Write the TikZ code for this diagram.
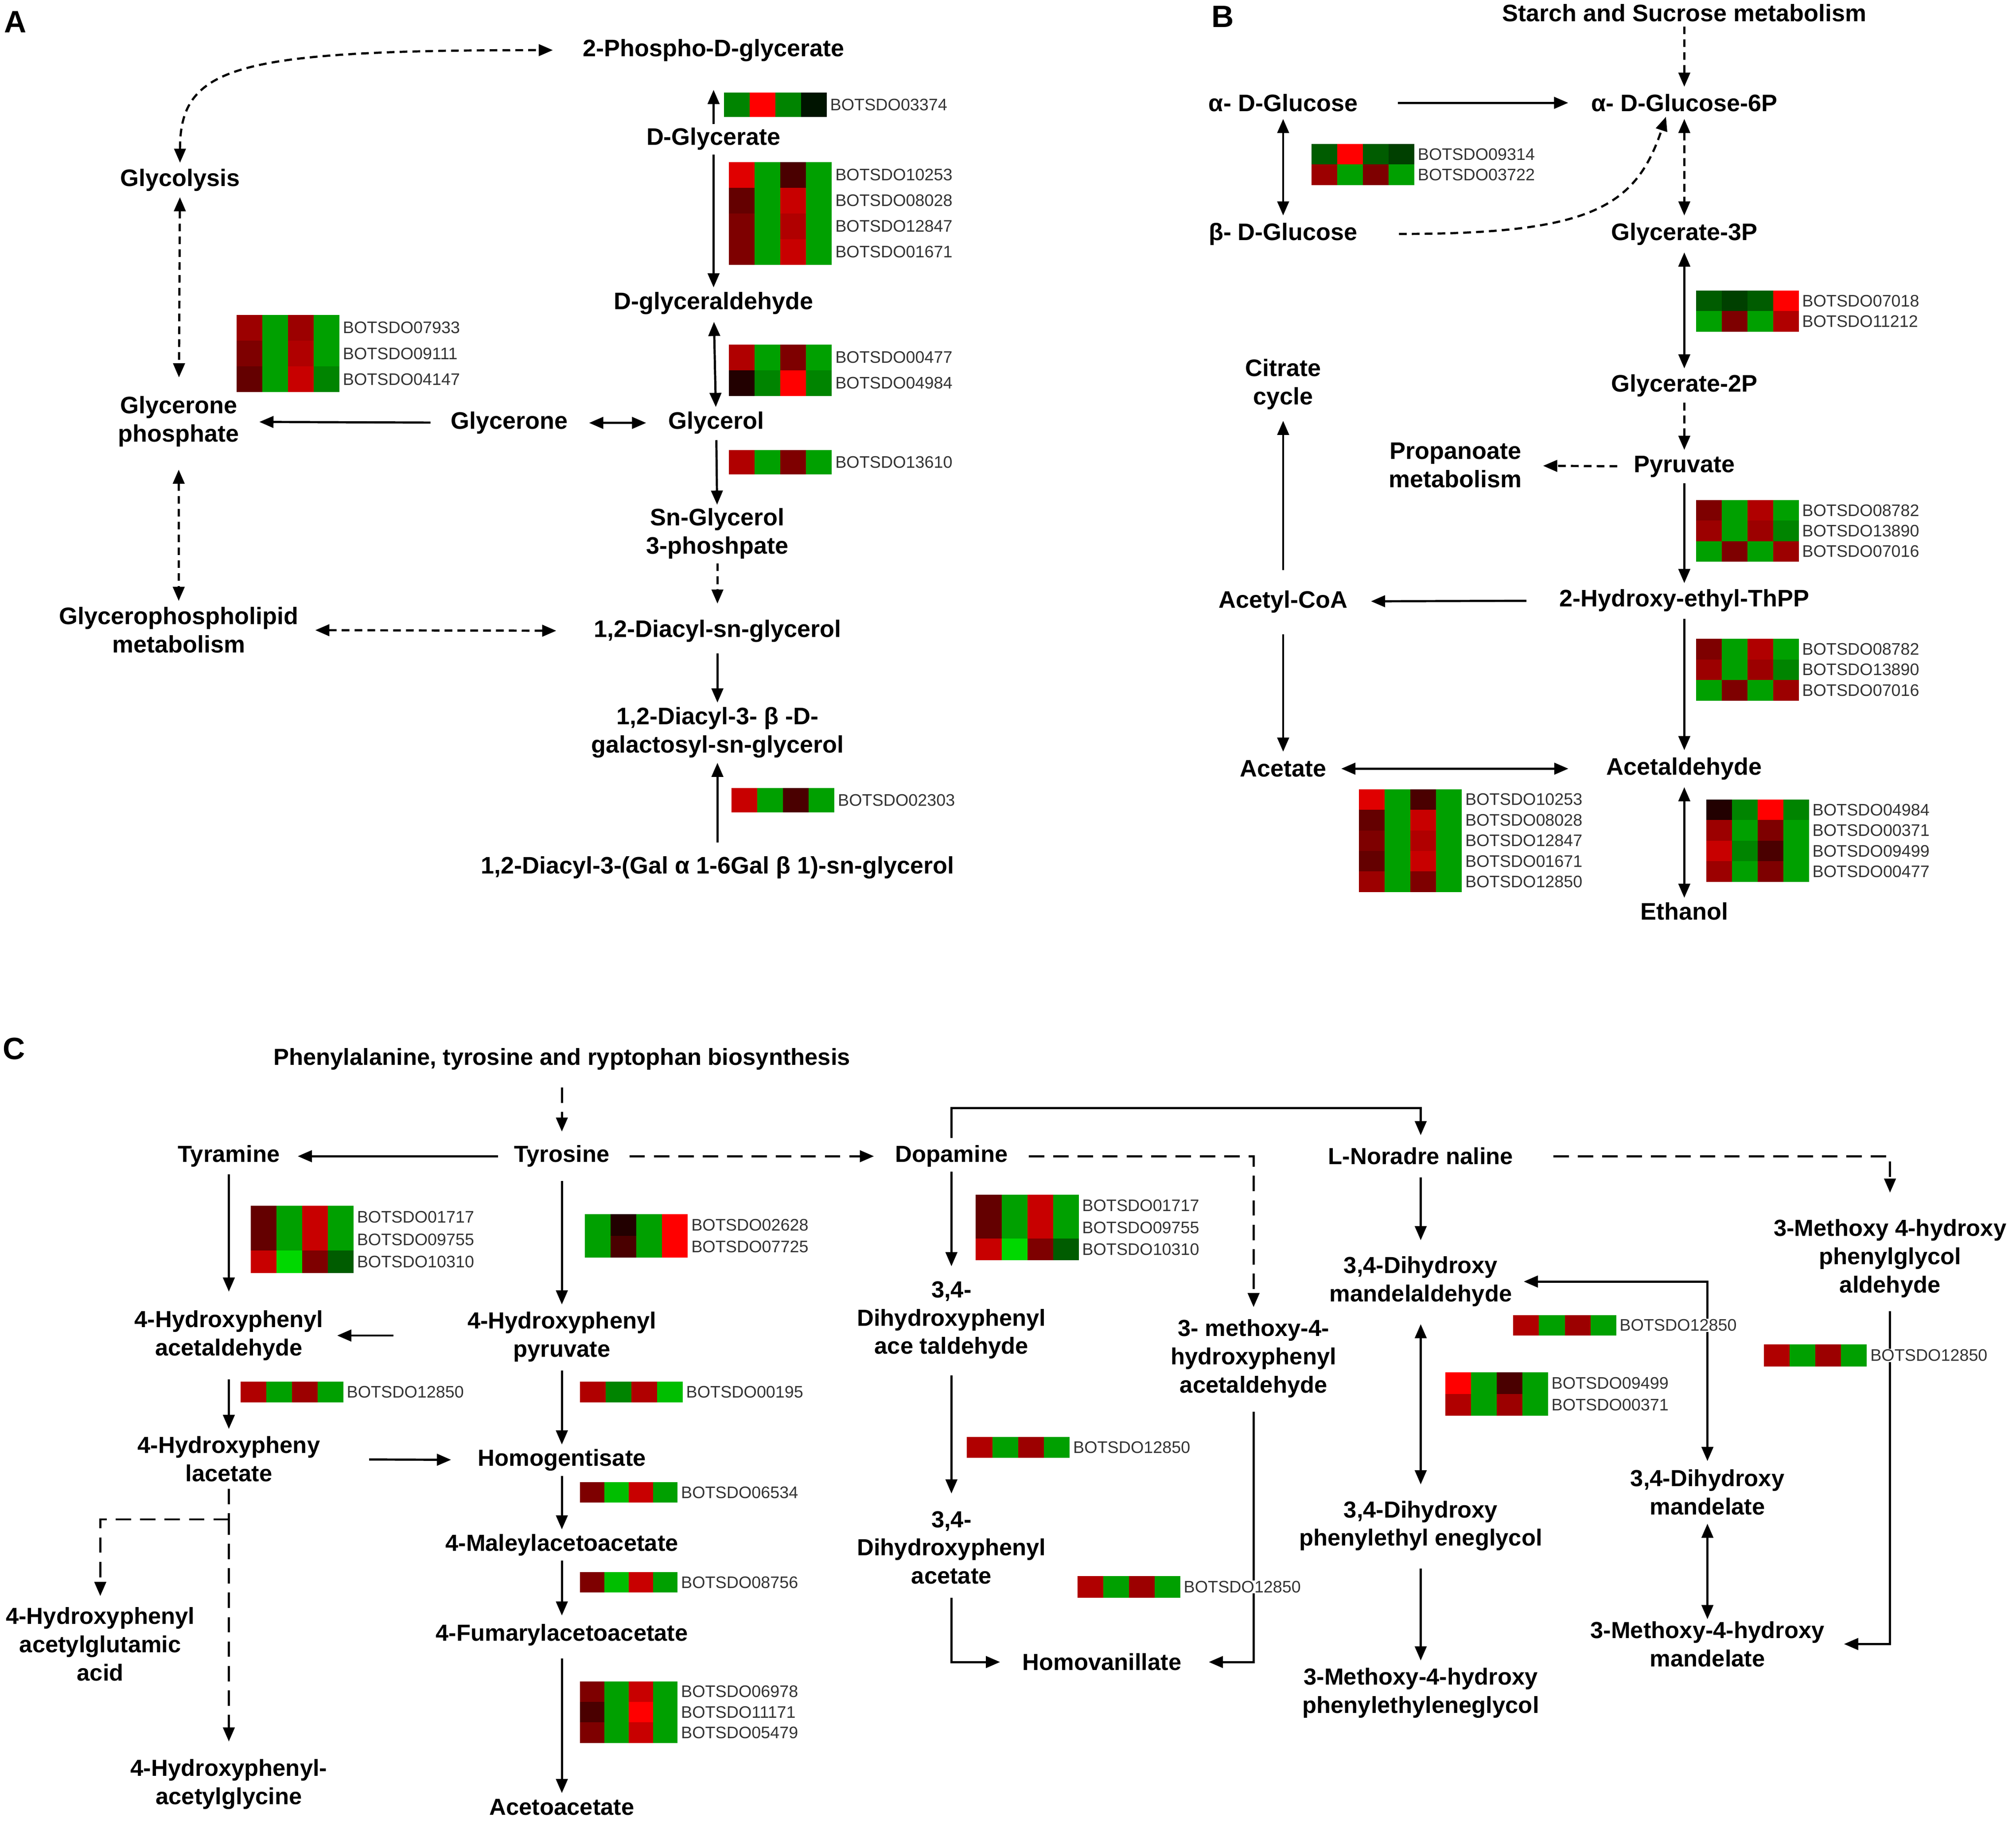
\documentclass[tikz,border=0pt]{standalone}
\usepackage{fontspec}
\setmainfont{Liberation Sans}
\usetikzlibrary{arrows.meta,calc}
\definecolor{rA}{HTML}{FF0000}
\definecolor{rB}{HTML}{E00000}
\definecolor{rC}{HTML}{C80000}
\definecolor{rD}{HTML}{B00000}
\definecolor{rE}{HTML}{9C0000}
\definecolor{rF}{HTML}{7E0000}
\definecolor{rG}{HTML}{640000}
\definecolor{rH}{HTML}{4A0000}
\definecolor{rI}{HTML}{220000}
\definecolor{gA}{HTML}{00D800}
\definecolor{gB}{HTML}{00A000}
\definecolor{gC}{HTML}{008400}
\definecolor{gD}{HTML}{005C00}
\definecolor{gE}{HTML}{004000}
\definecolor{gK}{HTML}{001400}
\definecolor{gL}{HTML}{00BE00}
\newcounter{gn}
\newcommand\hmrow[9]{%
 \fill[#5] (#1,#2) rectangle ++(#3,#4);
 \fill[#6] ({#1+#3},#2) rectangle ++(#3,#4);
 \fill[#7] ({#1+2*#3},#2) rectangle ++(#3,#4);
 \fill[#8] ({#1+3*#3},#2) rectangle ++(#3,#4);
 \stepcounter{gn}%
 \node[gene] (gene\arabic{gn}) at ({#1+4*#3+2},{#2+#4/2}) {#9};
}
\begin{document}
\begin{tikzpicture}[x=1pt,y=-1pt,
  labA/.style={font=\bfseries\fontsize{18.6}{22}\selectfont,align=center,inner sep=0pt},
  labC/.style={font=\bfseries\fontsize{18.1}{22}\selectfont,align=center,inner sep=0pt},
  gene/.style={font=\fontsize{13}{15}\selectfont,text=black!80,anchor=west,inner sep=0.5pt,fill=white},
  panel/.style={font=\bfseries\fontsize{24}{28}\selectfont,inner sep=0pt},
  ln/.style={line width=1.7pt},
  arr/.style={ln,-{Triangle[length=11pt,width=9pt]}},
  dbl/.style={ln,{Triangle[length=11pt,width=9pt]}-{Triangle[length=11pt,width=9pt]}},
  dsh/.style={dash pattern=on 6pt off 4pt},
  dshC/.style={dash pattern=on 12pt off 7pt},
]
\fill[white] (0,0) rectangle (1568,1422.6);
\useasboundingbox (0,0) rectangle (1568,1422.6);

% ---------------- Panel letters
\node[panel] (pA) at (12,17) {A};
\node[panel] (pB) at (951,13) {B};
\node[panel] (pC) at (11,816) {C};

% ---------------- Panel A
\node[labA] (pg) at (555,39) {2-Phospho-D-glycerate};
\node[labA] (dg) at (555,108) {D-Glycerate};
\node[labA] (dga) at (555,236) {D-glyceraldehyde};
\node[labA] (glyc) at (140,140) {Glycolysis};
\node[labA] (gp) at (139,328) {Glycerone\\phosphate};
\node[labA] (gly) at (396,329) {Glycerone};
\node[labA] (gol) at (557,329) {Glycerol};
\node[labA] (sng) at (558,415) {Sn-Glycerol\\3-phoshpate};
\node[labA] (dag) at (558,491) {1,2-Diacyl-sn-glycerol};
\node[labA] (gpl) at (139,490) {Glycerophospholipid\\metabolism};
\node[labA] (mgdg) at (558,570) {1,2-Diacyl-3- β -D-\\galactosyl-sn-glycerol};
\node[labA] (dgdg) at (558,675) {1,2-Diacyl-3-(Gal α 1-6Gal β 1)-sn-glycerol};

\draw[arr,shorten <=2.5pt,shorten >=22pt] (dg) -- (pg);
\draw[arr,shorten <=3.5pt,shorten >=3.5pt] (dg) -- (dga);
\draw[dbl,shorten <=5.5pt,shorten >=3.5pt] (dga) -- (gol);
\draw[arr,shorten <=15.5pt,shorten >=15.5pt] (gly) -- (gp);
\draw[dbl,shorten <=16.5pt,shorten >=17pt] (gly) -- (gol);
\draw[arr,shorten <=4.5pt,shorten >=2.5pt] (gol) -- (sng);
\draw[arr,dsh,shorten <=3.5pt,shorten >=12.5pt] (sng) -- (dag);
\draw[dbl,dsh,shorten <=4.5pt,shorten >=14.5pt] (glyc) -- (gp);
\draw[dbl,dsh,shorten <=17.5pt,shorten >=4.5pt] (gp) -- (gpl);
\draw[dbl,dsh,shorten <=13pt,shorten >=29pt] (gpl) -- (dag);
\draw[arr,shorten <=8.5pt,shorten >=3.5pt] (dag) -- (mgdg);
\draw[arr,shorten <=10.5pt,shorten >=3.5pt] (dgdg) -- (mgdg);
\draw[dbl,dsh,shorten <=4.5pt,shorten >=23pt] (glyc.north) .. controls +(0,-80) and +(-270,0) .. (pg.west);

\hmrow{563}{72}{20}{19}{gC}{rA}{gC}{gK}{BOTSDO03374}
\hmrow{567}{126}{20}{20}{rB}{gB}{rH}{gB}{BOTSDO10253}
\hmrow{567}{146}{20}{20}{rG}{gB}{rC}{gB}{BOTSDO08028}
\hmrow{567}{166}{20}{20}{rF}{gB}{rD}{gB}{BOTSDO12847}
\hmrow{567}{186}{20}{20}{rF}{gB}{rC}{gB}{BOTSDO01671}
\hmrow{184}{245}{20}{20}{rE}{gB}{rE}{gB}{BOTSDO07933}
\hmrow{184}{265}{20}{20}{rF}{gB}{rD}{gB}{BOTSDO09111}
\hmrow{184}{285}{20}{20}{rG}{gB}{rC}{gC}{BOTSDO04147}
\hmrow{567}{268}{20}{20}{rD}{gB}{rF}{gB}{BOTSDO00477}
\hmrow{567}{288}{20}{20}{rI}{gC}{rA}{gC}{BOTSDO04984}
\hmrow{567}{350}{20}{19}{rD}{gB}{rF}{gB}{BOTSDO13610}
\hmrow{569}{613}{20}{19}{rC}{gB}{rH}{gB}{BOTSDO02303}

% ---------------- Panel B
\node[labA] (ssm) at (1310,10) {Starch and Sucrose metabolism};
\node[labA] (ag) at (998,80) {α- D-Glucose};
\node[labA] (ag6) at (1310,80) {α- D-Glucose-6P};
\node[labA] (bg) at (998,182) {β- D-Glucose};
\node[labA] (g3p) at (1310,182) {Glycerate-3P};
\node[labA] (cit) at (998,299) {Citrate\\cycle};
\node[labA] (g2p) at (1310,300) {Glycerate-2P};
\node[labA] (prop) at (1132,362) {Propanoate\\metabolism};
\node[labA] (pyr) at (1310,363) {Pyruvate};
\node[labA] (acoa) at (998,468) {Acetyl-CoA};
\node[labA] (hetpp) at (1310,467) {2-Hydroxy-ethyl-ThPP};
\node[labA] (acet) at (998,598) {Acetate};
\node[labA] (acal) at (1310,598) {Acetaldehyde};
\node[labA] (eth) at (1310,709) {Ethanol};

\draw[arr,dsh,shorten <=3.5pt,shorten >=5.5pt] (ssm) -- (ag6);
\draw[arr,shorten <=31pt,shorten >=17.7pt] (ag) -- (ag6);
\draw[dbl,shorten <=5.5pt,shorten >=5.5pt] (ag) -- (bg);
\draw[arr,dsh,shorten <=32pt,shorten >=4pt] (bg.east) .. controls +(180,0) and +(-25,75) .. ([xshift=-13pt]ag6.south);
\draw[dbl,dsh,shorten <=5.5pt,shorten >=5.5pt] (ag6) -- (g3p);
\draw[dbl,shorten <=5.5pt,shorten >=4.5pt] (g3p) -- (g2p);
\draw[arr,dsh,shorten <=4.5pt,shorten >=4.5pt] (g2p) -- (pyr);
\draw[arr,dsh,shorten <=12.7pt,shorten >=16.3pt] (pyr) -- (prop);
\draw[arr,shorten <=4.5pt,shorten >=4.5pt] (pyr) -- (hetpp);
\draw[arr,shorten <=25.4pt,shorten >=18pt] (hetpp) -- (acoa);
\draw[arr,shorten <=15.5pt,shorten >=8.5pt] (acoa) -- (cit);
\draw[arr,shorten <=16.5pt,shorten >=6.5pt] (acoa) -- (acet);
\draw[arr,shorten <=5.5pt,shorten >=5.5pt] (hetpp) -- (acal);
\draw[dbl,shorten <=11.4pt,shorten >=29.5pt] (acet) -- (acal);
\draw[dbl,shorten <=5.5pt,shorten >=3.5pt] (acal) -- (eth);

\hmrow{1020}{112}{20}{16}{gD}{rA}{gD}{gE}{BOTSDO09314}
\hmrow{1020}{128}{20}{16}{rE}{gB}{rF}{gB}{BOTSDO03722}
\hmrow{1319}{226}{20}{16}{gD}{gE}{gD}{rA}{BOTSDO07018}
\hmrow{1319}{242}{20}{16}{gB}{rF}{gB}{rD}{BOTSDO11212}
\hmrow{1319}{389}{20}{16}{rF}{gB}{rD}{gB}{BOTSDO08782}
\hmrow{1319}{405}{20}{16}{rE}{gB}{rE}{gC}{BOTSDO13890}
\hmrow{1319}{421}{20}{16}{gB}{rF}{gB}{rE}{BOTSDO07016}
\hmrow{1319}{497}{20}{16}{rF}{gB}{rD}{gB}{BOTSDO08782}
\hmrow{1319}{513}{20}{16}{rE}{gB}{rE}{gC}{BOTSDO13890}
\hmrow{1319}{529}{20}{16}{gB}{rF}{gB}{rE}{BOTSDO07016}
\hmrow{1057}{614}{20}{16}{rB}{gB}{rH}{gB}{BOTSDO10253}
\hmrow{1057}{630}{20}{16}{rG}{gB}{rC}{gB}{BOTSDO08028}
\hmrow{1057}{646}{20}{16}{rF}{gB}{rD}{gB}{BOTSDO12847}
\hmrow{1057}{662}{20}{16}{rG}{gB}{rC}{gB}{BOTSDO01671}
\hmrow{1057}{678}{20}{16}{rE}{gB}{rF}{gB}{BOTSDO12850}
\hmrow{1327}{622}{20}{16}{rI}{gC}{rA}{gC}{BOTSDO04984}
\hmrow{1327}{638}{20}{16}{rE}{gB}{rF}{gB}{BOTSDO00371}
\hmrow{1327}{654}{20}{16}{rC}{gC}{rH}{gB}{BOTSDO09499}
\hmrow{1327}{670}{20}{16}{rE}{gB}{rF}{gB}{BOTSDO00477}

% ---------------- Panel C
\node[labC] (phe) at (437,824) {Phenylalanine, tyrosine and ryptophan biosynthesis};
\node[labC] (tyra) at (178,899.5) {Tyramine};
\node[labC] (tyro) at (437,899.5) {Tyrosine};
\node[labC] (dop) at (740,899.5) {Dopamine};
\node[labC] (nor) at (1105,899.5) {L-Noradre naline};
\node[labC] (mhpga) at (1470,979) {3-Methoxy 4-hydroxy\\phenylglycol\\aldehyde};
\node[labC] (hpaa) at (178,1039) {4-Hydroxyphenyl\\acetaldehyde};
\node[labC] (hpp) at (437,1040) {4-Hydroxyphenyl\\pyruvate};
\node[labC] (dhpaa) at (740,1027) {3,4-\\Dihydroxyphenyl\\ace taldehyde};
\node[labC] (mhpaa) at (975,1057) {3- methoxy-4-\\hydroxyphenyl\\acetaldehyde};
\node[labC] (dhma) at (1105,997) {3,4-Dihydroxy\\mandelaldehyde};
\node[labC] (hpla) at (178,1135) {4-Hydroxypheny\\lacetate};
\node[labC] (hga) at (437,1136) {Homogentisate};
\node[labC] (maa) at (437,1202) {4-Maleylacetoacetate};
\node[labC] (faa) at (437,1272) {4-Fumarylacetoacetate};
\node[labC] (aca) at (437,1406) {Acetoacetate};
\node[labC] (dhpa) at (740,1204) {3,4-\\Dihydroxyphenyl\\acetate};
\node[labC] (hva) at (857,1293) {Homovanillate};
\node[labC] (dhpeg) at (1105,1187) {3,4-Dihydroxy\\phenylethyl eneglycol};
\node[labC] (mhpeg) at (1105,1317) {3-Methoxy-4-hydroxy\\phenylethyleneglycol};
\node[labC] (dhmand) at (1328,1161) {3,4-Dihydroxy\\mandelate};
\node[labC] (mhmand) at (1328,1279) {3-Methoxy-4-hydroxy\\mandelate};
\node[labC] (hpag) at (78,1279) {4-Hydroxyphenyl\\acetylglutamic\\acid};
\node[labC] (hpgly) at (178,1388) {4-Hydroxyphenyl-\\acetylglycine};

\draw[arr,dshC,shorten <=13.5pt,shorten >=10.5pt] (phe) -- (tyro);
\draw[arr,shorten <=12.3pt,shorten >=13.8pt] (tyro) -- (tyra);
\draw[arr,dshC,shorten <=15.3pt,shorten >=16.3pt] (tyro) -- (dop);
\draw[arr,shorten <=5.5pt,shorten >=14.5pt] (tyra) -- (hpaa);
\draw[arr,shorten <=10.5pt,shorten >=5.5pt] (tyro) -- (hpp);
\coordinate (hpaaIn) at (306,1039);
\draw[arr,shorten >=10.6pt] (hpaaIn) -- (hpaa);
\draw[arr,shorten <=14.5pt,shorten >=5.5pt] (hpaa) -- (hpla);
\draw[arr,shorten <=6.5pt,shorten >=3.5pt] (hpp) -- (hga);
\draw[arr,shorten <=38pt,shorten >=20.6pt] (hpla) -- (hga);
\draw[arr,shorten <=3.5pt,shorten >=3.5pt] (hga) -- (maa);
\draw[arr,shorten <=3.5pt,shorten >=6.5pt] (maa) -- (faa);
\draw[arr,shorten <=9.5pt,shorten >=4.5pt] (faa) -- (aca);
\coordinate (brC) at (178,1182);
\draw[ln,dshC,shorten <=5.5pt] (hpla) -- (brC);
\draw[arr,dshC,shorten >=8.5pt] (brC) -| (hpag);
\draw[arr,dshC,shorten >=13.5pt] (brC) -- (hpgly);
\draw[arr,shorten <=3.5pt,shorten >=11.5pt] (dop) -- (dhpaa);
\draw[arr,dshC,shorten <=16.3pt,shorten >=9.5pt] (dop) -| (mhpaa);
\coordinate (topC) at (900,862);
\draw[arr,shorten <=5.5pt,shorten >=9.5pt] (dop) -- (dop |- topC) -| (nor);
\draw[arr,shorten <=12.5pt,shorten >=13.5pt] (dhpaa) -- (dhpa);
\draw[arr,shorten <=10.5pt,shorten >=17.1pt] (dhpa) |- (hva);
\draw[arr,shorten <=10.5pt,shorten >=21.1pt] (mhpaa) |- (hva);
\draw[arr,shorten <=9.5pt,shorten >=12.5pt] (nor) -- (dhma);
\draw[arr,dshC,shorten <=31pt,shorten >=20.5pt] (nor) -| (mhpga);
\draw[dbl,shorten <=13.5pt,shorten >=12.5pt] (dhma) -- (dhpeg);
\draw[arr,shorten <=13.5pt,shorten >=5.5pt] (dhpeg) -- (mhpeg);
\draw[dbl,shorten <=9pt,shorten >=6.5pt] (dhma) -| (dhmand);
\draw[dbl,shorten <=6.5pt,shorten >=1.5pt] (dhmand) -- (mhmand);
\draw[arr,shorten <=10.5pt,shorten >=15pt] (mhpga) |- (mhmand);

\hmrow{195}{938}{20}{17.5}{rG}{gB}{rC}{gB}{BOTSDO01717}
\hmrow{195}{955.5}{20}{17.5}{rG}{gB}{rC}{gB}{BOTSDO09755}
\hmrow{195}{973}{20}{17.5}{rC}{gA}{rF}{gD}{BOTSDO10310}
\hmrow{455}{944.5}{20}{17}{gB}{rI}{gB}{rA}{BOTSDO02628}
\hmrow{455}{961.5}{20}{17}{gB}{rH}{gB}{rA}{BOTSDO07725}
\hmrow{759}{929.5}{20}{17}{rG}{gB}{rC}{gB}{BOTSDO01717}
\hmrow{759}{946.5}{20}{17}{rG}{gB}{rC}{gB}{BOTSDO09755}
\hmrow{759}{963.5}{20}{17}{rC}{gA}{rF}{gD}{BOTSDO10310}
\hmrow{187}{1075}{20}{16}{rD}{gB}{rE}{gB}{BOTSDO12850}
\hmrow{451}{1075}{20}{16}{rD}{gC}{rD}{gL}{BOTSDO00195}
\hmrow{451}{1153}{19}{16}{rF}{gL}{rC}{gB}{BOTSDO06534}
\hmrow{451}{1223}{19}{16}{rF}{gL}{rC}{gB}{BOTSDO08756}
\hmrow{451}{1308}{19}{16}{rF}{gB}{rC}{gB}{BOTSDO06978}
\hmrow{451}{1324}{19}{16}{rH}{gB}{rA}{gB}{BOTSDO11171}
\hmrow{451}{1340}{19}{16}{rF}{gB}{rC}{gB}{BOTSDO05479}
\hmrow{752}{1118}{20}{16}{rD}{gB}{rE}{gB}{BOTSDO12850}
\hmrow{838}{1226}{20}{17}{rD}{gB}{rE}{gB}{BOTSDO12850}
\hmrow{1177}{1023}{20}{16}{rD}{gB}{rE}{gB}{BOTSDO12850}
\hmrow{1124}{1067.5}{20}{17}{rA}{gB}{rH}{gB}{BOTSDO09499}
\hmrow{1124}{1084.5}{20}{17}{rD}{gB}{rE}{gB}{BOTSDO00371}
\hmrow{1372}{1046}{20}{17}{rD}{gB}{rE}{gB}{BOTSDO12850}
\end{tikzpicture}
\end{document}
